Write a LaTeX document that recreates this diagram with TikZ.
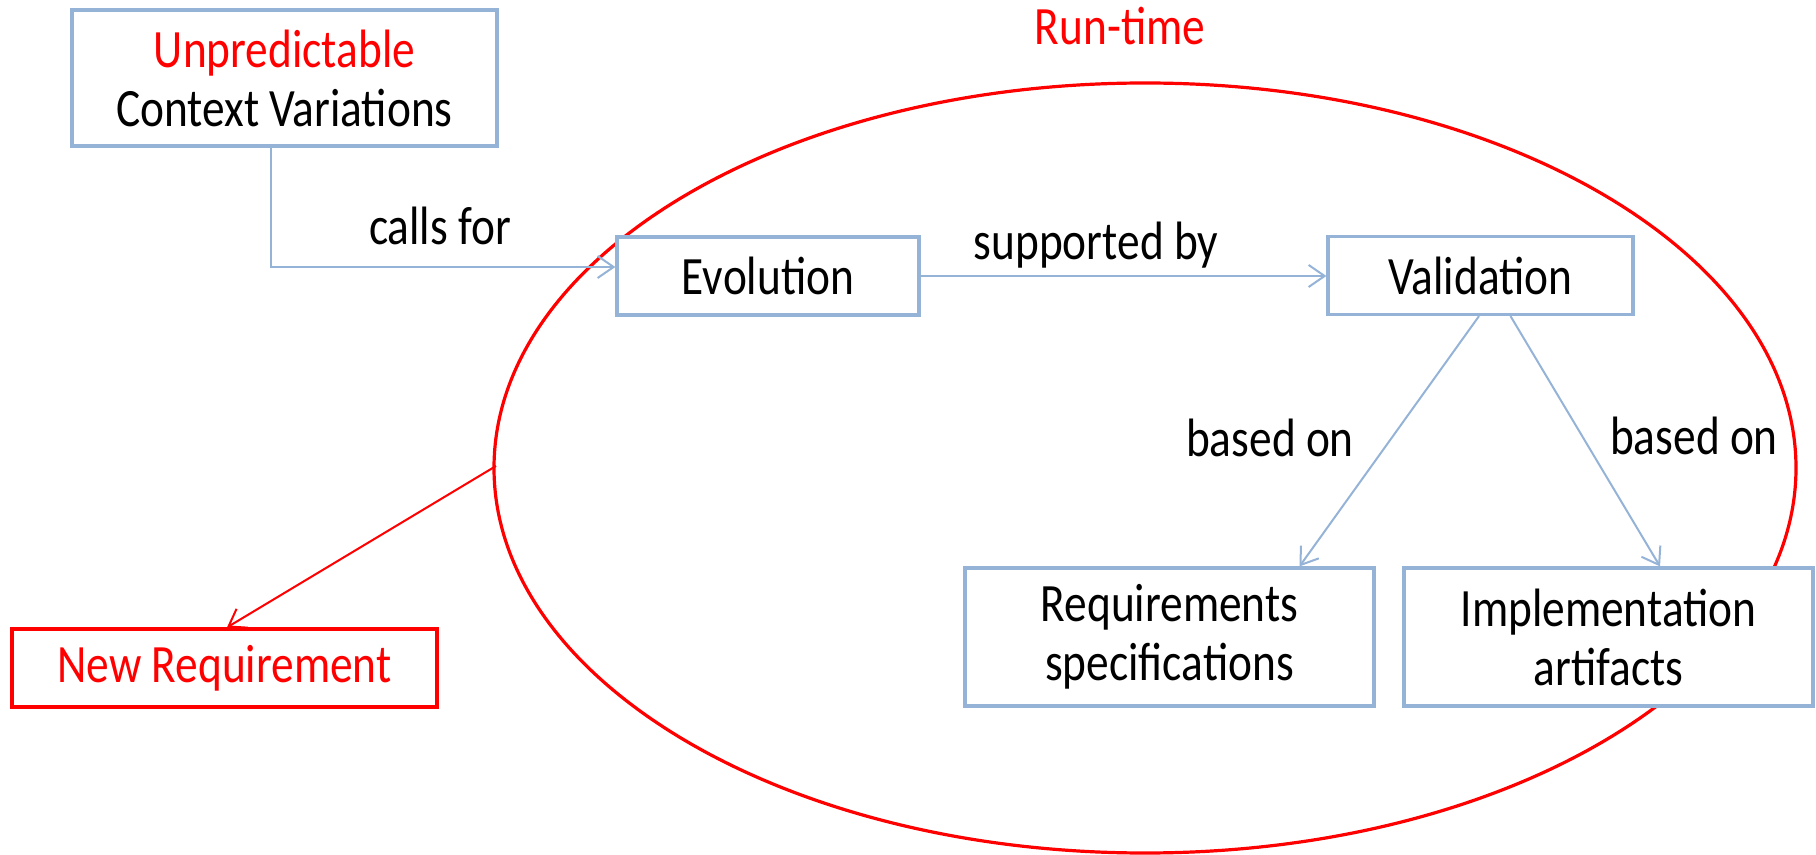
\documentclass[tikz,border=0pt]{standalone}
\usepackage{fontspec}
\setmainfont[FakeStretch=0.84]{Carlito}
\usetikzlibrary{arrows.meta,calc}
\definecolor{boxblue}{HTML}{95B3D7}
\definecolor{pptred}{HTML}{FF0000}
\begin{document}
\begin{tikzpicture}[x=0.5pt,y=-0.5pt,
  txt/.style={font=\fontsize{27}{29.5}\selectfont, align=center, inner sep=0pt},
  bluebox/.style={txt, draw=boxblue, fill=white, line width=1.6pt, rectangle},
  redbox/.style={txt, draw=pptred, fill=white, text=pptred, line width=1.6pt, rectangle},
  conn/.style={draw=boxblue, line width=1pt, -{Straight Barb[length=8pt,width=11pt]}},
  redconn/.style={draw=pptred, line width=1pt, -{Straight Barb[length=8pt,width=11pt]}},
  lbl/.style={txt, anchor=base}]
\useasboundingbox (0,0) rectangle (1816,855);

% run-time ellipse
\coordinate (ec) at (1145,468);
\draw[pptred, line width=1.6pt] (ec) ellipse [x radius=325.5pt, y radius=192.5pt];
\coordinate (ewest) at (496,466);
\node[lbl, text=pptred] (rt) at (1120,45) {Run-time};

% boxes
\node[bluebox, minimum width=212.5pt, minimum height=68pt] (ucv) at (284.5,78)
  {\textcolor{pptred}{Unpredictable}\\Context Variations};
\node[bluebox, minimum width=151pt, minimum height=39pt] (evo) at (768,276) {Evolution};
\node[bluebox, minimum width=152.5pt, minimum height=39pt] (val) at (1480.5,275.5) {Validation};
\node[bluebox, minimum width=204.5pt, minimum height=69pt] (req) at (1169.5,637) {Requirements\\specifications};
\node[bluebox, minimum width=204.5pt, minimum height=69pt] (impl) at (1608.5,637) {Implementation\\artifacts};
\node[redbox, minimum width=212.5pt, minimum height=39pt] (nreq) at (224.5,668) {New Requirement};

% connectors
\draw[conn] ([xshift=-6.75pt]ucv.south) |- ([yshift=4.5pt]evo.west);
\node[lbl] (lcalls) at (440,245) {calls for};
\draw[conn] (evo.east) -- (evo.east -| val.west);
\node[lbl] (lsup) at (1096,260) {supported by};
\draw[conn] ([xshift=-0.75pt]val.south) -- ([xshift=65pt]req.north);
\node[lbl] (lb1) at (1270,457) {based on};
\draw[conn] ([xshift=15pt]val.south) -- ([xshift=25.75pt]impl.north);
\node[lbl] (lb2) at (1694,455) {based on};
\draw[redconn] (ewest) -- ([xshift=1.25pt]nreq.north);
\end{tikzpicture}
\end{document}
